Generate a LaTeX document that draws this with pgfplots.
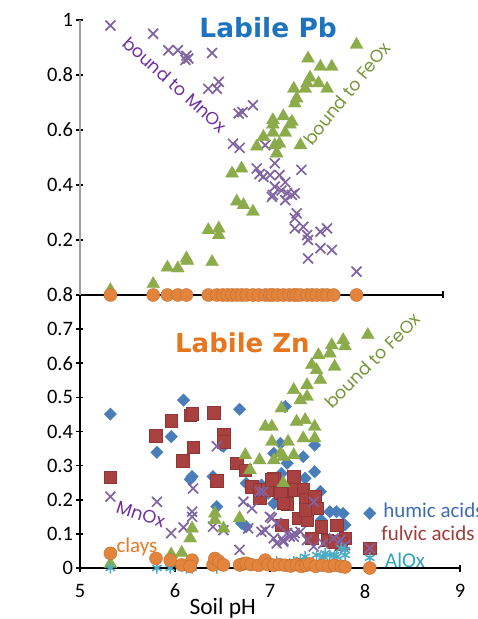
\documentclass[border=0pt]{standalone}
\usepackage{pgfplots}
\pgfplotsset{compat=1.18}
\usepackage{fontspec}
\setmainfont{Carlito}
\newfontfamily\titlefont{DejaVu Sans}
\newfontfamily\gothic{Poppins}
\definecolor{mnox}{RGB}{128,100,162}
\definecolor{feox}{RGB}{140,172,76}
\definecolor{humic}{RGB}{74,126,187}
\definecolor{fulvic}{RGB}{168,65,63}
\definecolor{alox}{RGB}{75,172,198}
\definecolor{clays}{RGB}{226,132,60}
\definecolor{pbtitle}{RGB}{30,115,190}
\definecolor{zntitle}{RGB}{232,118,30}
\definecolor{mntext}{RGB}{112,48,160}
\definecolor{fetext}{RGB}{119,150,58}
\definecolor{humtext}{RGB}{62,109,174}
\definecolor{fultext}{RGB}{163,59,57}
\definecolor{altext}{RGB}{49,162,188}
\definecolor{claytext}{RGB}{232,122,34}

% ---------- data ----------
\pgfplotstableread{
x y
5.32 0.98
5.77 0.95
5.93 0.89
6.03 0.89
6.12 0.87
6.14 0.86
6.11 0.855
6.39 0.88
6.35 0.75
6.46 0.775
6.44 0.75
6.67 0.66
6.71 0.665
6.82 0.69
6.61 0.55
6.68 0.535
6.95 0.545
7.33 0.455
6.86 0.46
7.05 0.479
6.93 0.43
7.00 0.436
7.10 0.436
7.16 0.41
7.05 0.394
7.03 0.364
7.18 0.37
7.23 0.364
7.26 0.37
7.16 0.345
7.28 0.297
7.26 0.279
7.35 0.248
7.26 0.242
7.39 0.218
7.40 0.20
7.53 0.23
7.60 0.242
7.53 0.17
7.65 0.164
7.40 0.133
7.91 0.085
6.89 0.44
7.02 0.357
7.12 0.38
}\pbmn
\pgfplotstableread{
x y
5.32 0.018
5.77 0.04
5.92 0.10
6.03 0.097
6.12 0.133
6.13 0.125
6.39 0.12
6.35 0.236
6.46 0.242
6.46 0.218
6.60 0.442
6.70 0.46
6.65 0.34
6.72 0.327
6.82 0.303
6.86 0.54
6.93 0.575
7.03 0.636
7.03 0.62
7.14 0.65
7.23 0.63
7.21 0.62
7.03 0.59
7.16 0.59
7.05 0.545
7.10 0.55
7.07 0.515
7.32 0.545
7.25 0.75
7.28 0.715
7.26 0.697
7.40 0.86
7.42 0.79
7.39 0.77
7.37 0.75
7.53 0.83
7.65 0.83
7.51 0.77
7.60 0.75
7.91 0.91
}\pbfe
\pgfplotstableread{
x y
5.32 0
5.77 0
5.92 0
6.03 0
6.12 0
6.35 0
6.44 0
6.50 0
6.55 0
6.60 0
6.65 0
6.70 0
6.75 0
6.82 0
6.88 0
6.95 0
7.00 0
7.03 0
7.08 0
7.14 0
7.20 0
7.25 0
7.28 0
7.32 0
7.39 0
7.44 0
7.49 0
7.55 0
7.60 0
7.67 0
7.91 0
}\pbcl
\pgfplotstableread{
x y
5.32 0.451
5.81 0.339
5.96 0.385
6.09 0.492
6.18 0.268
6.16 0.26
6.40 0.268
6.44 0.18
6.51 0.356
6.68 0.465
6.70 0.131
6.75 0.121
6.75 0.248
6.91 0.243
6.98 0.219
7.04 0.189
7.04 0.336
7.16 0.473
7.11 0.365
7.12 0.277
7.18 0.307
7.21 0.238
7.35 0.326
7.37 0.263
7.47 0.282
7.47 0.36
7.53 0.224
7.63 0.165
7.70 0.165
7.77 0.16
7.79 0.126
7.54 0.14
8.05 0.16
}\znhum
\pgfplotstableread{
x y
5.32 0.266
5.80 0.387
5.96 0.432
6.08 0.315
6.16 0.448
6.18 0.453
6.19 0.354
6.41 0.455
6.44 0.256
6.51 0.39
6.51 0.37
6.65 0.307
6.74 0.287
6.81 0.238
6.89 0.204
6.89 0.229
7.04 0.263
7.04 0.229
7.12 0.126
7.18 0.189
7.25 0.268
7.26 0.229
7.35 0.229
7.37 0.20
7.30 0.146
7.39 0.141
7.47 0.209
7.49 0.175
7.54 0.121
7.44 0.087
7.60 0.082
7.70 0.126
7.79 0.087
7.75 0.072
7.11 0.219
6.97 0.229
7.02 0.258
7.14 0.19
7.37 0.17
7.68 0.077
8.05 0.058
}\znful
\pgfplotstableread{
x y
5.32 0.209
5.81 0.194
5.96 0.102
6.09 0.119
6.18 0.165
6.18 0.150
6.19 0.233
6.44 0.357
6.40 0.121
6.51 0.111
6.68 0.053
6.72 0.194
6.81 0.175
6.77 0.116
6.91 0.106
6.93 0.224
7.00 0.150
7.04 0.087
7.07 0.072
7.14 0.082
7.21 0.092
7.25 0.092
7.32 0.106
7.39 0.082
7.46 0.194
7.46 0.063
7.56 0.072
7.67 0.087
7.74 0.082
7.79 0.067
7.07 0.132
7.18 0.102
6.89 0.224
7.02 0.146
6.95 0.111
7.14 0.077
7.26 0.102
8.05 0.058
}\znmn
\pgfplotstableread{
x y
5.32 0.012
5.96 0.040
6.07 0.045
6.18 0.116
6.16 0.087
6.42 0.160
6.42 0.141
6.51 0.116
6.68 0.146
6.74 0.331
6.79 0.287
6.89 0.316
6.95 0.414
7.02 0.414
7.02 0.370
7.04 0.316
7.11 0.336
7.14 0.326
7.12 0.468
7.19 0.370
7.25 0.331
7.28 0.429
7.32 0.492
7.25 0.522
7.37 0.434
7.35 0.380
7.39 0.502
7.39 0.536
7.44 0.595
7.49 0.580
7.53 0.551
7.47 0.414
7.47 0.380
7.51 0.624
7.63 0.629
7.65 0.653
7.68 0.590
7.77 0.668
7.79 0.650
8.03 0.683
7.14 0.249
}\znfe
\pgfplotstableread{
x y
5.32 0
5.81 0
5.95 0
6.12 0
6.18 0
6.44 0
6.89 0.014
7.07 0.019
7.25 0.019
7.32 0.024
7.37 0.033
7.49 0.038
7.56 0.033
7.58 0.043
7.63 0.038
7.68 0.038
7.70 0.033
7.75 0.058
7.79 0.038
7.79 0.053
8.05 0.030
}\znal
\pgfplotstableread{
x y
5.32 0.043
5.80 0.028
5.95 0.023
6.07 0.009
6.18 0.023
6.16 0.005
6.40 0.009
6.42 0.028
6.46 0.02
6.51 0.009
6.68 0.009
6.72 0.012
6.75 0.014
6.80 0.01
6.88 0.008
6.95 0.023
6.98 0.01
7.04 0.008
7.10 0.01
7.16 0.008
7.22 0.006
7.28 0.01
7.33 0.005
7.38 0.008
7.42 0.012
7.48 0.005
7.55 0.008
7.62 0.005
7.68 0.008
7.75 0.005
7.79 0.003
8.05 0.0
}\zncl

\pgfplotsset{
  panel/.style={
    scale only axis, clip=false,
    tick style={black, line width=1.6pt},
    major tick length=7pt,
    tick align=outside,
    ticklabel style={font=\fontsize{20.5}{24}\selectfont},
    /pgf/number format/assume math mode=true,
    /pgf/number format/fixed,
    /pgf/number format/precision=1,
  },
  mnst/.style={only marks, color=mnox, mark=x, mark size=7pt, mark options={line width=1.7pt}},
  fest/.style={only marks, color=feox, mark=triangle*, mark size=7.5pt, mark options={fill=feox, draw=feox, line width=0.3pt}},
  clst/.style={only marks, color=clays, mark=*, mark size=6.5pt, mark options={fill=clays, draw=clays!85!black, line width=0.4pt}},
  hust/.style={only marks, color=humic, mark=square*, mark size=4.4pt, mark options={rotate=45, fill=humic, draw=humic, line width=0.3pt}},
  fust/.style={only marks, color=fulvic, mark=square*, mark size=6.3pt, mark options={fill=fulvic, draw=fulvic!85!black, line width=0.4pt}},
  alst/.style={only marks, color=alox, mark=asterisk, mark size=5.5pt, mark options={line width=1.6pt}},
}

\begin{document}
\begin{tikzpicture}[x=1pt,y=1pt]
\useasboundingbox (0,0) rectangle (477,619);
% ---------- bottom panel: Zn ----------
\begin{axis}[panel, at={(80pt,51pt)}, anchor=south west, width=380pt, height=273pt,
  xmin=5, xmax=9, ymin=0, ymax=0.8,
  axis x line=bottom, axis y line=left,
  axis line style={-, line width=2.6pt, black},
  every outer x axis line/.append style={-},
  every outer y axis line/.append style={-},
  xtick={5,6,7,8,9}, ytick={0,0.1,0.2,0.3,0.4,0.5,0.6,0.7,0.8},
  xticklabel style={yshift=-9pt},
  ]
\addplot[hust] table {\znhum};
\addplot[fust] table {\znful};
\addplot[mnst] table {\znmn};
\addplot[fest] table {\znfe};
\addplot[alst] table {\znal};
\addplot[clst] table {\zncl};
\node[font=\titlefont\bfseries\fontsize{26}{30}\selectfont, text=zntitle] at (axis cs:6.71,0.66) {Labile Zn};
\node[font=\gothic\fontsize{17.5}{20}\selectfont, text=fetext, rotate=45] at (axis cs:8.08,0.607) {bound to FeOx};
\node[font=\gothic\fontsize{18}{20}\selectfont, text=mntext, rotate=-18] at (axis cs:5.64,0.158) {MnOx};
\node[font=\fontsize{21}{24}\selectfont, text=claytext] at (axis cs:5.60,0.0625) {clays};
\node[font=\fontsize{21}{24}\selectfont, text=humtext, anchor=west, inner sep=0pt] at (axis cs:8.19,0.17) {humic acids};
\node[font=\fontsize{21}{24}\selectfont, text=fultext, anchor=west, inner sep=0pt] at (axis cs:8.17,0.102) {fulvic acids};
\node[font=\fontsize{21}{24}\selectfont, text=altext, anchor=west, inner sep=0pt] at (axis cs:8.21,0.023) {AlOx};
\node[font=\fontsize{23.5}{26}\selectfont, yshift=-40pt] at (rel axis cs:0.3754,0) {Soil pH};
\end{axis}
% ---------- top panel: Pb ----------
\begin{axis}[panel, at={(80pt,324pt)}, anchor=south west, width=363pt, height=275pt,
  xmin=5, xmax=8.82, ymin=0, ymax=1,
  axis x line=bottom, axis y line=left,
  axis line style={-, line width=2.6pt},
  every outer x axis line/.append style={-},
  every outer y axis line/.append style={-},
  x axis line style={black},
  y axis line style={color=gray!75, line width=2pt},
  xtick={8.82}, xticklabels={}, ytick={0.2,0.4,0.6,0.8,1},
  ]
\addplot[mnst] table {\pbmn};
\addplot[fest] table {\pbfe};
\addplot[clst] table {\pbcl};
\node[font=\titlefont\bfseries\fontsize{26.5}{30}\selectfont, text=pbtitle] at (axis cs:6.98,0.973) {Labile Pb};
\node[font=\gothic\fontsize{17.5}{20}\selectfont, text=mntext, rotate=-42] at (axis cs:6.0,0.765) {bound to MnOx};
\node[font=\gothic\fontsize{17.5}{20}\selectfont, text=fetext, rotate=51] at (axis cs:7.81,0.733) {bound to FeOx};
\end{axis}
\end{tikzpicture}
\end{document}
